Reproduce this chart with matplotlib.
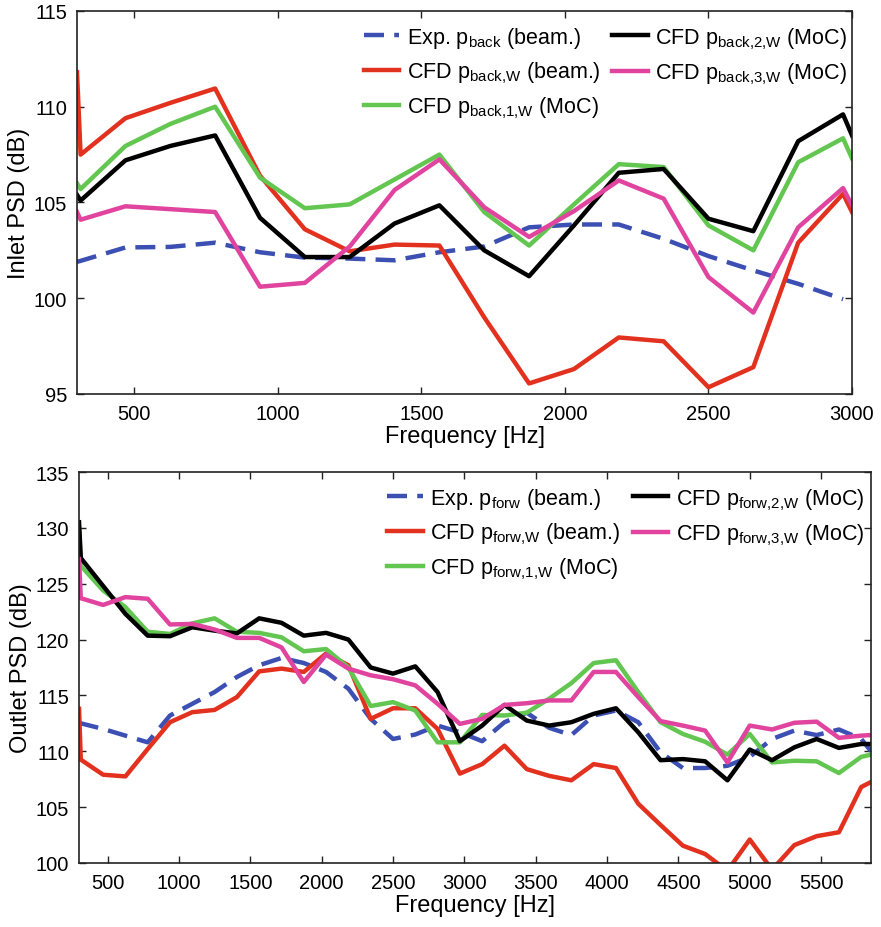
import matplotlib
matplotlib.use("Agg")
import matplotlib.pyplot as plt
import numpy as np

# ==========================================
# STYLE
# ==========================================

plt.rcParams["font.family"] = ["Liberation Sans", "DejaVu Sans"]
plt.rcParams["mathtext.fontset"] = "custom"
plt.rcParams["mathtext.rm"] = "Liberation Sans"
plt.rcParams["mathtext.it"] = "Liberation Sans"
plt.rcParams["mathtext.default"] = "regular"

C_EXP = "#3c4fb2"
C_RED = "#e2321f"
C_GRN = "#62c650"
C_BLK = "#000000"
C_MAG = "#e0449e"

# ==========================================
# DATA - INLET (top)
# ==========================================

freq_in = [300, 312.5, 468.75, 625, 781.25, 937.5, 1093.75, 1250, 1406.25,
           1562.5, 1718.75, 1875, 2031.25, 2187.5, 2343.75, 2500, 2656.25,
           2812.5, 2968.75, 3000]

in_exp = [101.9, 101.95, 102.65, 102.68, 102.9, 102.4, 102.12, 102.07, 101.98,
          102.4, 102.7, 103.7, 103.85, 103.85, 103.1, 102.2, 101.45,
          100.75, 99.95, np.nan]
in_cfd = [111.8, 107.5, 109.4, 110.2, 110.95, 106.4, 103.6, 102.45, 102.8,
          102.75, 99.0, 95.55, 96.3, 97.95, 97.75, 95.35, 96.4,
          102.9, 105.45, 104.5]
in_moc1 = [106.0, 105.7, 107.95, 109.1, 110.0, 106.3, 104.7, 104.9, 106.2,
           107.5, 104.5, 102.75, 104.9, 107.0, 106.85, 103.8, 102.5,
           107.1, 108.35, 107.3]
in_moc2 = [105.4, 105.1, 107.2, 107.95, 108.5, 104.2, 102.15, 102.15, 103.9,
           104.85, 102.5, 101.15, 103.8, 106.55, 106.75, 104.15, 103.5,
           108.2, 109.6, 108.5]
in_moc3 = [104.5, 104.1, 104.8, 104.65, 104.5, 100.6, 100.8, 102.7, 105.65,
           107.25, 104.75, 103.2, 104.55, 106.15, 105.2, 101.1, 99.25,
           103.7, 105.75, 104.85]

# ==========================================
# DATA - OUTLET (bottom)
# ==========================================

freq_out = [300, 312.5, 468.75, 625, 781.25, 937.5, 1093.75, 1250, 1406.25,
            1562.5, 1718.75, 1875, 2031.25, 2187.5, 2343.75, 2500, 2656.25,
            2812.5, 2968.75, 3125, 3281.25, 3437.5, 3593.75, 3750, 3906.25,
            4062.5, 4218.75, 4375, 4531.25, 4687.5, 4843.75, 5000, 5156.25,
            5312.5, 5468.75, 5625, 5781.25, 5850]

out_exp = [112.6, 112.5, 112.0, 111.4, 110.8, 113.2, 114.25, 115.3, 116.65,
           117.7, 118.35, 117.9, 117.1, 115.6, 112.9, 111.1, 111.5,
           112.3, 111.7, 110.9, 112.6, 113.45, 112.1, 111.45, 113.2,
           113.65, 112.6, 109.9, 108.5, 108.5, 108.7, 109.5, 111.1,
           111.85, 111.45, 111.95, 111.1, 110.0]
out_cfd = [113.8, 109.25, 107.9, 107.75, 110.2, 112.6, 113.5, 113.7, 114.85,
           117.15, 117.4, 117.1, 118.75, 117.7, 112.9, 113.85, 113.85,
           112.0, 108.0, 108.85, 110.5, 108.4, 107.8, 107.4, 108.85,
           108.5, 105.3, 103.4, 101.55, 100.8, 99.3, 102.1, 99.4,
           101.6, 102.4, 102.75, 106.8, 107.25]
out_moc1 = [130.0, 126.6, 124.4, 122.9, 120.7, 120.5, 121.45, 121.9, 120.7,
            120.6, 120.2, 118.95, 119.15, 117.5, 114.05, 114.4, 113.65,
            110.8, 110.8, 113.25, 113.2, 113.45, 114.7, 116.1, 117.9,
            118.15, 115.3, 112.6, 111.55, 110.85, 109.7, 111.55, 109.0,
            109.15, 109.1, 108.05, 109.5, 109.7]
out_moc2 = [130.5, 127.3, 124.8, 122.3, 120.35, 120.3, 121.1, 120.8, 120.55,
            121.9, 121.5, 120.35, 120.6, 120.0, 117.5, 116.95, 117.6,
            115.3, 110.9, 112.3, 114.15, 112.75, 112.3, 112.6, 113.35,
            113.85, 111.7, 109.2, 109.3, 109.1, 107.4, 110.15, 109.2,
            110.35, 111.1, 110.3, 110.65, 110.65]
out_moc3 = [127.2, 123.7, 123.1, 123.8, 123.65, 121.35, 121.4, 120.9, 120.15,
            120.15, 119.3, 116.2, 118.65, 117.4, 116.8, 116.45, 115.9,
            114.25, 112.45, 112.9, 114.15, 114.3, 114.55, 114.55, 117.1,
            117.1, 114.85, 112.7, 112.3, 111.85, 109.0, 112.3, 111.95,
            112.55, 112.65, 111.2, 111.4, 111.45]

# ==========================================
# HELPERS
# ==========================================

def style_axes(ax):
    ax.tick_params(direction="in", length=5, width=1, top=True, right=True,
                   labelsize=14.5, colors="#222222", labelcolor="black", pad=7)
    for sp in ax.spines.values():
        sp.set_linewidth(1.2)
        sp.set_color("#222222")


def draw_panel(ax, f, exp, cfd, m1, m2, m3, key, anchor):
    lw = 3.2
    ax.plot(f, exp, color=C_EXP, lw=lw, dashes=(4.5, 2.3),
            label=r"Exp. $p_{%s}$ (beam.)" % key)
    ax.plot(f, cfd, color=C_RED, lw=lw,
            label=r"CFD $p_{%s{,}W}$ (beam.)" % key)
    ax.plot(f, m1, color=C_GRN, lw=lw,
            label=r"CFD $p_{%s{,}1{,}W}$ (MoC)" % key)
    ax.plot(f, m2, color=C_BLK, lw=lw,
            label=r"CFD $p_{%s{,}2{,}W}$ (MoC)" % key)
    ax.plot(f, m3, color=C_MAG, lw=lw,
            label=r"CFD $p_{%s{,}3{,}W}$ (MoC)" % key)
    ax.legend(ncol=2, loc="upper right", bbox_to_anchor=(anchor, 1.0),
              frameon=False, fontsize=15.5,
              handlelength=1.65, handletextpad=0.35, columnspacing=0.55,
              labelspacing=0.45, borderaxespad=0.25)
    ax.set_xlabel("Frequency [Hz]", fontsize=17, labelpad=2)
    style_axes(ax)


# ==========================================
# FIGURE
# ==========================================

fig = plt.figure(figsize=(8.81, 9.28), dpi=100)

ax1 = fig.add_axes([0.0874, 0.5744, 0.8797, 0.4127])
draw_panel(ax1, freq_in, in_exp, in_cfd, in_moc1, in_moc2, in_moc3, "back", 1.012)
ax1.set_xlim(300, 3000)
ax1.set_ylim(95, 115)
ax1.set_xticks([500, 1000, 1500, 2000, 2500, 3000])
ax1.set_yticks([95, 100, 105, 110, 115])
ax1.set_ylabel("Inlet PSD (dB)", fontsize=17, labelpad=3)

ax2 = fig.add_axes([0.0897, 0.069, 0.899, 0.4213])
draw_panel(ax2, freq_out, out_exp, out_cfd, out_moc1, out_moc2, out_moc3, "forw", 1.009)
ax2.set_xlim(300, 5850)
ax2.set_ylim(100, 135)
ax2.set_xticks([500, 1000, 1500, 2000, 2500, 3000, 3500, 4000, 4500, 5000, 5500])
ax2.set_yticks([100, 105, 110, 115, 120, 125, 130, 135])
ax2.set_ylabel("Outlet PSD (dB)", fontsize=17, labelpad=3)

fig.savefig("out.png", dpi=100)
plt.close(fig)
